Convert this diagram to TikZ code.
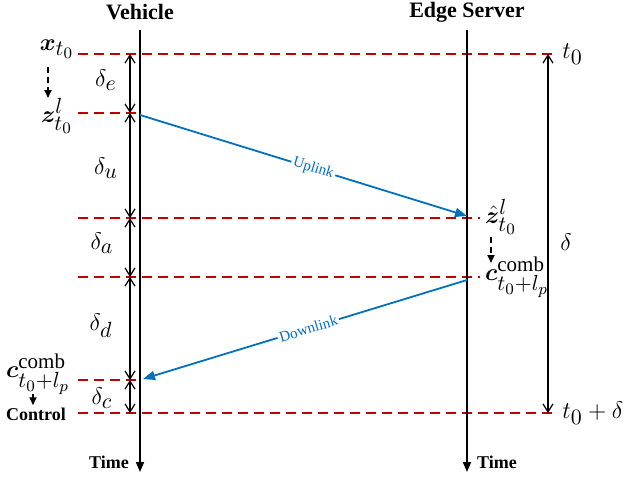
\documentclass[tikz,border=0pt]{standalone}
\usepackage{amsmath}
\usepackage{bm}
\usepackage{fontspec}
\setmainfont{Liberation Serif}
\usetikzlibrary{arrows.meta}
\DeclareMathSizes{13}{13}{10.5}{8.5}
\definecolor{linkblue}{RGB}{0,112,192}
\definecolor{dashred}{RGB}{192,0,0}

\begin{document}
\begin{tikzpicture}[x=0.5pt, y=-0.5pt,
  timeline/.style={line width=0.9pt, -{Triangle[length=5pt,width=4pt]}},
  level/.style={dashred, line width=0.9pt, dash pattern=on 5pt off 3pt},
  span/.style={line width=0.6pt, {Straight Barb[length=4pt,width=5pt]}-{Straight Barb[length=4pt,width=5pt]}},
  link/.style={linkblue, line width=0.9pt, -{Triangle[length=6pt,width=4.5pt]}},
  linklabel/.style={fill=white, text=linkblue, font=\fontsize{7.5}{8}\selectfont, sloped, inner sep=1pt},
  title/.style={font=\fontsize{11}{13}\selectfont\bfseries},
  tag/.style={font=\fontsize{9}{10}\selectfont\bfseries, inner sep=1pt},
  mathlbl/.style={font=\fontsize{13}{15}\selectfont, inner sep=0.5pt}]
  \useasboundingbox (0,0) rectangle (634,478);

  % time axes
  \coordinate (vtop) at (140,30);
  \coordinate (vbot) at (140,472);
  \coordinate (stop) at (467,30);
  \coordinate (sbot) at (467,472);
  \node[title] (vehtitle) at (140,12) {Vehicle};
  \node[title] (srvtitle) at (467,12) {Edge Server};

  % dashed time levels
  \coordinate (L0) at (78,54);  \coordinate (R0) at (558,54);
  \coordinate (Le) at (78,113); \coordinate (Re) at (140,113);
  \coordinate (Lu) at (78,218); \coordinate (Ru) at (480,218);
  \coordinate (La) at (78,277); \coordinate (Ra) at (480,277);
  \coordinate (Ld) at (78,380); \coordinate (Rd) at (140,380);
  \coordinate (Lc) at (78,413); \coordinate (Rc) at (558,413);
  \foreach \k in {0,e,u,a,d,c}
    \draw[level] (L\k) -- (R\k);

  \draw[timeline] (vtop) -- (vbot);
  \draw[timeline] (stop) -- (sbot);

  % delay spans on the vehicle side
  \coordinate (s0) at (130,54);
  \coordinate (se) at (130,113);
  \coordinate (su) at (130,218);
  \coordinate (sa) at (130,277);
  \coordinate (sd) at (130,380);
  \coordinate (sc) at (130,413);
  \draw[span] (s0) -- (se);
  \draw[span] (se) -- (su);
  \draw[span] (su) -- (sa);
  \draw[span] (sa) -- (sd);
  \draw[span] (sd) -- (sc);
  \node[mathlbl] (de) at (106,80) {$\delta_e$};
  \node[mathlbl] (du) at (106,168) {$\delta_u$};
  \node[mathlbl] (da) at (102,243) {$\delta_a$};
  \node[mathlbl] (dd) at (101,326) {$\delta_d$};
  \node[mathlbl] (dc) at (102,398) {$\delta_c$};

  % total delay
  \coordinate (T0) at (548,54);
  \coordinate (T1) at (548,413);
  \draw[span] (T0) -- (T1);
  \node[mathlbl] (dtot) at (566,242) {$\delta$};
  \node[mathlbl, right] (t0) at (561,54) {$t_0$};
  \node[mathlbl, right] (t1) at (561,413) {$t_0+\delta$};

  % vehicle side labels
  \node[mathlbl] (xin) at (57,49) {$\bm{x}_{t_0}$};
  \node[mathlbl] (zin) at (57,116) {$\bm{z}^l_{t_0}$};
  \draw[line width=0.9pt, dash pattern=on 3pt off 2pt, -{Triangle[length=4pt,width=3.5pt]}]
    (48,67) coordinate (xa) -- (48,98) coordinate (xb);
  \node[mathlbl] (cveh) at (38,374) {$\bm{c}^{\mathrm{comb}}_{t_0+l_p}$};
  \node[tag] (ctrl) at (36,414) {Control};
  \draw[line width=0.9pt, -{Triangle[length=4pt,width=3.5pt]}]
    (33,394) coordinate (ca) -- (ctrl.north -| ca);

  % server side labels
  \node[mathlbl] (zsrv) at (501,217) {$\hat{\bm{z}}^l_{t_0}$};
  \node[mathlbl] (csrv) at (517,277) {$\bm{c}^{\mathrm{comb}}_{t_0+l_p}$};
  \draw[line width=0.9pt, dash pattern=on 3pt off 2pt, -{Triangle[length=4pt,width=3.5pt]}]
    (491,237) coordinate (za) -- (491,263) coordinate (zb);

  % links
  \coordinate (upA) at (140,115);
  \coordinate (upB) at (467,216);
  \coordinate (dnA) at (467,280);
  \coordinate (dnB) at (143,379);
  \draw[link] (upA) -- node[linklabel, pos=0.53] (uplbl) {Uplink} (upB);
  \draw[link] (dnA) -- node[linklabel, pos=0.49] (dnlbl) {Downlink} (dnB);

  % axis labels
  \node[tag] (tveh) at (109,462) {Time};
  \node[tag] (tsrv) at (497,462) {Time};
\end{tikzpicture}
\end{document}
